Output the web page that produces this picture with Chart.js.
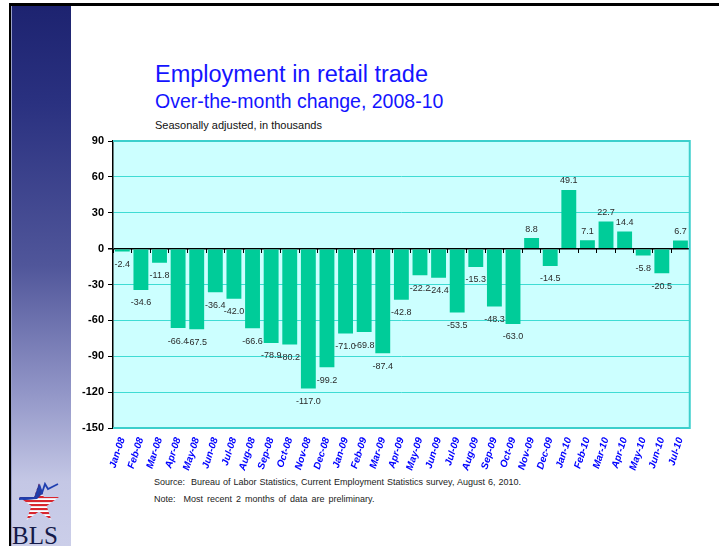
<!DOCTYPE html>
<html>
<head>
<meta charset="utf-8">
<script src="https://cdn.jsdelivr.net/npm/chart.js@4.4.1/dist/chart.umd.min.js"></script>
<style>
  html, body { margin: 0; padding: 0; background: #fff; }
  body { width: 719px; height: 546px; position: relative; overflow: hidden; font-family: "Liberation Sans", Arial, sans-serif; }
  #topline { position: absolute; left: 9px; top: 3px; width: 710px; height: 3px; background: #000; }
  #leftline { position: absolute; left: 9px; top: 3px; width: 2px; height: 543px; background: #000; }
  #sidebar { position: absolute; left: 11px; top: 6px; width: 60px; height: 540px;
    background: linear-gradient(to bottom, #1d2370 0%, #2a3180 18%, #50569a 48%, #9397c8 72%, #c4c7e5 88%, #cbcee9 100%);
    border-left: 1px solid #9aa0c8; box-sizing: border-box; }
  .t { position: absolute; white-space: nowrap; }
  #title { left: 155px; top: 61px; font-size: 23.5px; line-height: 26px; color: #1414ff; }
  #subtitle { left: 155px; top: 90px; font-size: 19.5px; line-height: 22px; color: #1414ff; }
  #unit { left: 155px; top: 119px; font-size: 11px; line-height: 13px; color: #111; }
  #source { left: 154px; top: 477px; font-size: 9px; line-height: 11px; color: #222; word-spacing: 0.5px; }
  #note { left: 154px; top: 494px; font-size: 9px; line-height: 11px; color: #222; word-spacing: 1.5px; }
  #chartBox { position: absolute; left: 60px; top: 128px; width: 640px; height: 350px; }
  #logo { position: absolute; left: 11px; top: 476px; width: 60px; height: 70px; }
</style>
</head>
<body>
<div id="sidebar"></div>
<div id="topline"></div>
<div id="leftline"></div>
<svg id="logo" width="60" height="70" viewBox="0 0 60 70">
  <defs>
    <pattern id="stripes" width="4" height="4" patternUnits="userSpaceOnUse">
      <rect x="0" y="0" width="4" height="2.3" fill="#d8262e"/>
      <rect x="0" y="2.3" width="4" height="1.7" fill="#ffffff"/>
    </pattern>
    <clipPath id="starClip">
      <polygon points="28,7 32.8,21 48,21 35.6,30 40.4,44 28,35.4 15.6,44 20.4,30 8,21 23.2,21"/>
    </clipPath>
  </defs>
  <g clip-path="url(#starClip)">
    <rect x="0" y="0" width="60" height="50" fill="url(#stripes)"/>
    <polygon points="0,0 60,0 60,18 42,20 33,16 26,23 0,25" fill="#2a3a9a"/>
  </g>
  <polyline points="8,23 25,22 29,11 31,17 34,8 37,13 43,10 47,8" fill="none" stroke="#1f3fb0" stroke-width="1.8"/>
  <text x="1" y="68" font-family="Liberation Serif, Times New Roman, serif" font-size="25" fill="#141a4a">BLS</text>
</svg>

<div class="t" id="title">Employment in retail trade</div>
<div class="t" id="subtitle">Over-the-month change, 2008-10</div>
<div class="t" id="unit">Seasonally adjusted, in thousands</div>
<div class="t" id="source">Source:&nbsp; Bureau of Labor Statistics, Current Employment Statistics survey, August 6, 2010.</div>
<div class="t" id="note">Note:&nbsp; Most recent 2 months of data are preliminary.</div>

<div id="chartBox"><canvas id="c" width="640" height="350"></canvas></div>

<script>
const months = ["Jan-08","Feb-08","Mar-08","Apr-08","May-08","Jun-08","Jul-08","Aug-08","Sep-08","Oct-08","Nov-08","Dec-08",
                "Jan-09","Feb-09","Mar-09","Apr-09","May-09","Jun-09","Jul-09","Aug-09","Sep-09","Oct-09","Nov-09","Dec-09",
                "Jan-10","Feb-10","Mar-10","Apr-10","May-10","Jun-10","Jul-10"];
const retailChange = [-2.4,-34.6,-11.8,-66.4,-67.5,-36.4,-42.0,-66.6,-78.9,-80.2,-117.0,-99.2,
                      -71.0,-69.8,-87.4,-42.8,-22.2,-24.4,-53.5,-15.3,-48.3,-63.0,8.8,-14.5,
                      49.1,7.1,22.7,14.4,-5.8,-20.5,6.7];
const yMin = -150;
const yMax = 90;
const yStep = 30;

const GRID = '#3fdcd4';
const BORDER = '#3ccfcc';

const plotBg = {
  id: 'plotBg',
  beforeDraw(chart) {
    const a = chart.chartArea, ctx = chart.ctx;
    ctx.save();
    ctx.fillStyle = '#ccffff';
    ctx.fillRect(a.left, a.top, a.right - a.left, a.bottom - a.top);
    ctx.restore();
  },
  beforeDatasetsDraw(chart) {
    const a = chart.chartArea, ctx = chart.ctx;
    ctx.save();
    ctx.strokeStyle = BORDER;
    ctx.lineWidth = 2;
    ctx.beginPath();
    ctx.moveTo(a.left, a.top);
    ctx.lineTo(a.right, a.top);
    ctx.lineTo(a.right, a.bottom);
    ctx.lineTo(a.left, a.bottom);
    ctx.stroke();
    ctx.restore();
  }
};

const barLabels = {
  id: 'barLabels',
  afterDatasetsDraw(chart) {
    const ctx = chart.ctx;
    const meta = chart.getDatasetMeta(0);
    const vals = chart.data.datasets[0].data;
    ctx.save();
    ctx.font = '9px "Liberation Sans", Arial, sans-serif';
    ctx.fillStyle = '#2a2a2a';
    ctx.textAlign = 'center';
    ctx.textBaseline = 'middle';
    meta.data.forEach((el, i) => {
      const v = vals[i];
      const y = v < 0 ? el.y + 13 : el.y - 9;
      ctx.fillText(v.toFixed(1), el.x, y);
    });
    ctx.restore();
  }
};

new Chart(document.getElementById('c'), {
  type: 'bar',
  data: {
    labels: months,
    datasets: [{
      data: retailChange,
      backgroundColor: '#00cc99',
      borderWidth: 0,
      barPercentage: 0.8,
      categoryPercentage: 1.0,
      xAxisID: 'x',
      yAxisID: 'y'
    }]
  },
  options: {
    responsive: false,
    devicePixelRatio: 1,
    animation: false,
    events: [],
    layout: { padding: { top: 13, right: 9, bottom: 0, left: 0 } },
    plugins: { legend: { display: false }, tooltip: { enabled: false }, title: { display: false } },
    scales: {
      x: {
        type: 'category',
        position: 'bottom',
        offset: true,
        grid: { display: false, drawTicks: false, offset: true },
        border: { display: false },
        ticks: {
          autoSkip: false,
          minRotation: 72,
          maxRotation: 72,
          padding: 8,
          color: '#0000ff',
          font: { family: '"Liberation Sans", Arial, sans-serif', size: 10, weight: 'bold', style: 'italic' }
        },
        afterFit(scale) { scale.height = 50; }
      },
      x0: {
        type: 'category',
        position: { y: 0 },
        offset: true,
        grid: { offset: true, drawOnChartArea: false, drawTicks: true, tickLength: 4, color: '#000', lineWidth: 1 },
        border: { display: false },
        ticks: { display: false }
      },
      y: {
        min: yMin,
        max: yMax,
        position: 'left',
        ticks: {
          stepSize: yStep,
          padding: 4,
          color: '#000',
          font: { family: '"Liberation Sans", Arial, sans-serif', size: 11, weight: 'bold' }
        },
        grid: {
          color: (c) => (c.tick && c.tick.value === 0) ? '#000' : GRID,
          lineWidth: (c) => (c.tick && c.tick.value === 0) ? 1.5 : 1,
          tickColor: '#000',
          tickLength: 5
        },
        border: { display: true, color: '#000', width: 1.5 },
        afterFit(scale) { scale.width = 53; }
      }
    }
  },
  plugins: [plotBg, barLabels]
});
</script>
</body>
</html>
